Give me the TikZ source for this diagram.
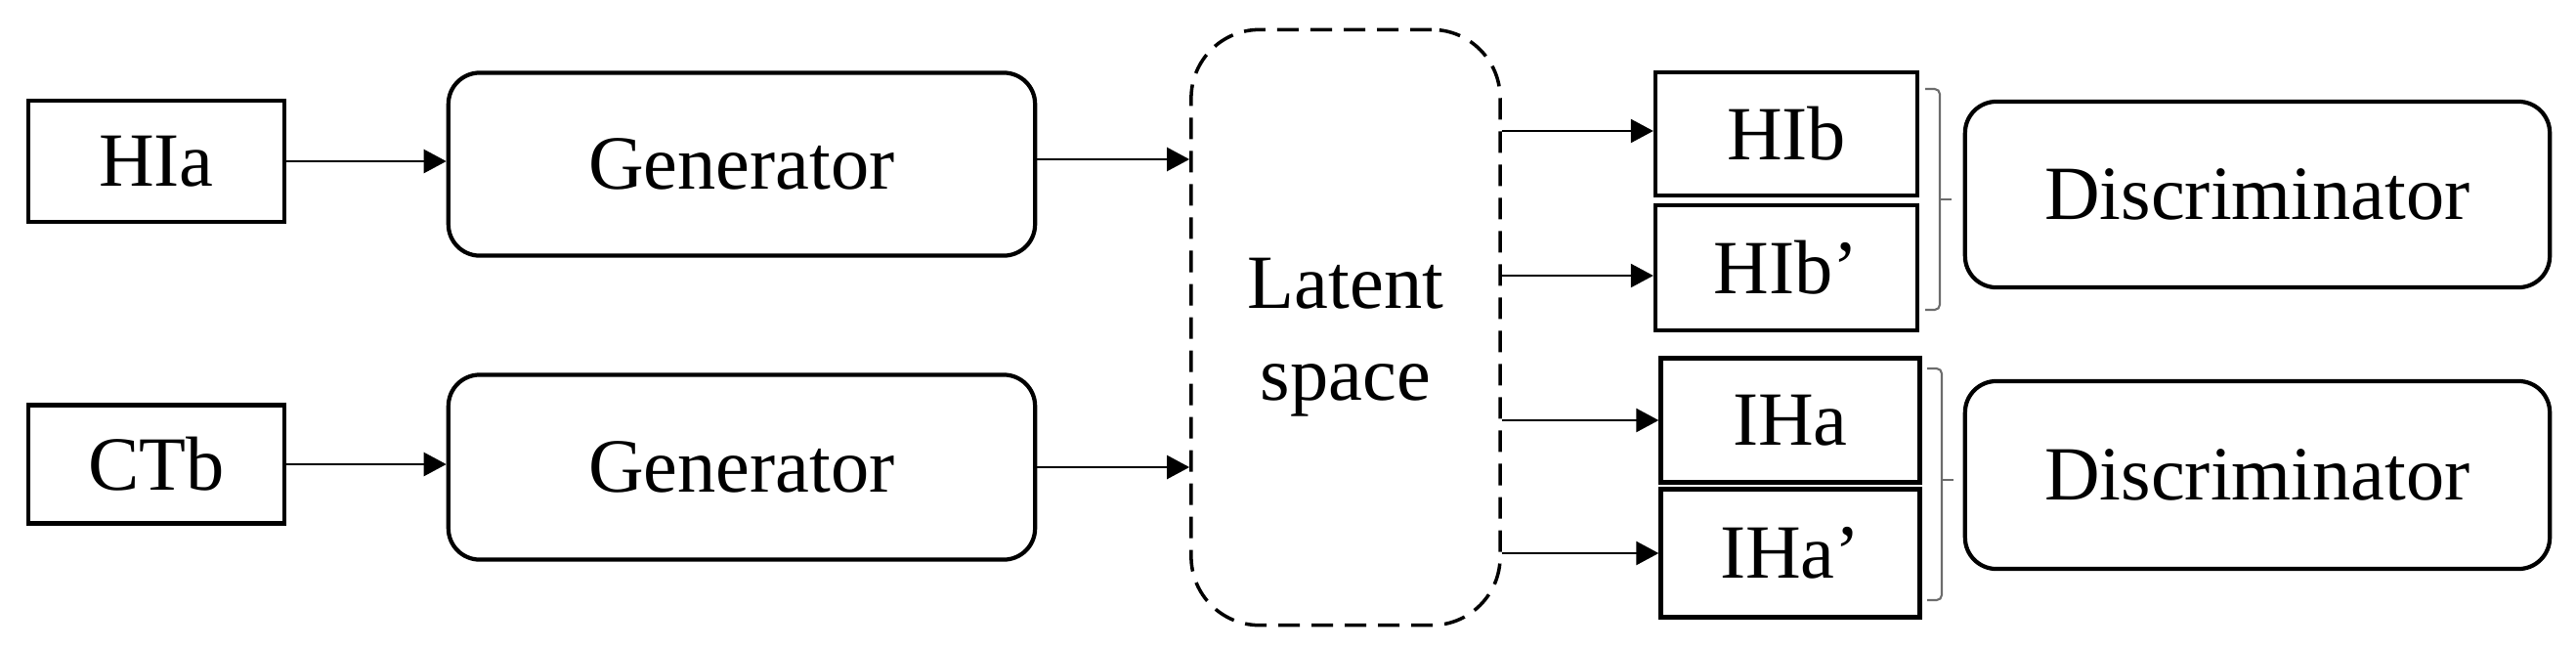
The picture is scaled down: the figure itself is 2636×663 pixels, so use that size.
\documentclass[tikz,border=0pt]{standalone}
\usepackage{fontspec}
\setmainfont{Liberation Serif}
\usetikzlibrary{arrows.meta,calc}
\begin{document}
\begin{tikzpicture}[x=0.01cm,y=-0.01cm,
  lbl/.style={font=\fontsize{22.3}{26}\selectfont, align=center, inner sep=0pt},
  sq/.style={lbl, draw, line width=1.2pt},
  rbox/.style={lbl, draw, line width=1.2pt, rounded corners=0.32cm},
  latent/.style={lbl, draw, line width=1pt, rounded corners=0.7cm, dash pattern=on 0.22cm off 0.12cm},
  arr/.style={line width=0.7pt, -{Triangle[length=0.23cm,width=0.24cm]}},
  brk/.style={draw=gray!85!black, line width=0.6pt, rounded corners=1.5pt}
]
\useasboundingbox (0,0) rectangle (2636,663);
\node[sq, minimum width=2.62cm, minimum height=1.24cm] (hia) at (160,165) {HIa};
\node[sq, minimum width=2.62cm, minimum height=1.21cm] (ctb) at (160,475) {CTb};
\node[rbox, minimum width=6.0cm, minimum height=1.87cm] (g1) at (759,168) {Generator};
\node[rbox, minimum width=6.0cm, minimum height=1.89cm] (g2) at (759,478) {Generator};
\node[latent, minimum width=3.16cm, minimum height=6.09cm] (lat) at (1377,335) {};
\node[lbl] (lattxt) at (1377,345) {Latent\\[0.02cm]space};
\node[sq, minimum width=2.68cm, minimum height=1.26cm] (hib) at (1828,137) {HIb};
\node[sq, minimum width=2.68cm, minimum height=1.28cm] (hibp) at (1828,274) {HIb’};
\node[sq, minimum width=2.65cm, minimum height=1.27cm] (iha) at (1832,430) {IHa};
\node[sq, minimum width=2.65cm, minimum height=1.31cm] (ihap) at (1832,566) {IHa’};
\node[rbox, minimum width=5.98cm, minimum height=1.90cm] (d1) at (2310,199) {Discriminator};
\node[rbox, minimum width=5.98cm, minimum height=1.92cm] (d2) at (2310,486) {Discriminator};

\draw[arr] (hia.east) -- (hia.east -| g1.west);
\draw[arr] (ctb.east) -- (ctb.east -| g2.west);
\draw[arr] ([yshift=0.05cm]g1.east) -- ([yshift=0.05cm]g1.east -| lat.west);
\draw[arr] (g2.east) -- (g2.east -| lat.west);
\draw[arr] ([yshift=0.03cm]lat.east |- hib) -- ([yshift=0.03cm]hib.west);
\draw[arr] ([yshift=-0.08cm]lat.east |- hibp) -- ([yshift=-0.08cm]hibp.west);
\draw[arr] (lat.east |- iha) -- (iha.west);
\draw[arr] (lat.east |- ihap) -- (ihap.west);

\coordinate (b1t) at (1970,91);
\coordinate (b1b) at (1970,317);
\coordinate (b1m) at (1997,204);
\coordinate (b2t) at (1972,377);
\coordinate (b2b) at (1972,614);
\coordinate (b2m) at (1999,491);
\draw[brk] (b1t) -- ++(15,0) |- (b1b);
\draw[brk] (b1m -| 1985,0) -- (b1m);
\draw[brk] (b2t) -- ++(15,0) |- (b2b);
\draw[brk] (b2m -| 1987,0) -- (b2m);
\end{tikzpicture}
\end{document}
